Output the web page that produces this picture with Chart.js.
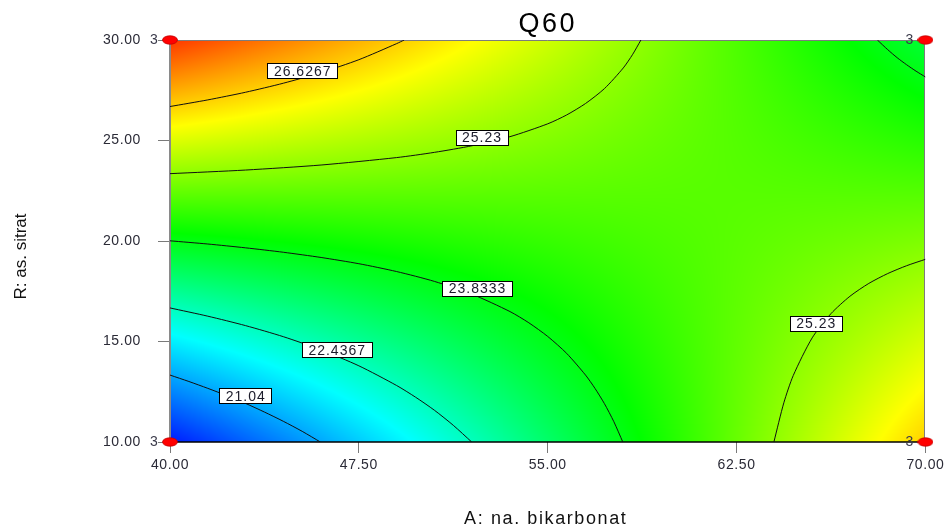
<!DOCTYPE html>
<html>
<head>
<meta charset="utf-8">
<script src="https://cdn.jsdelivr.net/npm/chart.js@4.4.1/dist/chart.umd.min.js"></script>
<style>
html,body{margin:0;padding:0;background:#ffffff;}
canvas{display:block;}
</style>
</head>
<body>
<canvas id="chart" width="947" height="527"></canvas>
<script>
// ---------------- data ----------------
const chartTitle = 'Q60';
const xAxisTitle = 'A: na. bikarbonat';
const yAxisTitle = 'R: as. sitrat';
const xTickValues = [40, 47.5, 55, 62.5, 70];
const yTickValues = [10, 15, 20, 25, 30];

// Q60 response read on a grid (columns = A levels, one array per B level)
const gridA = [40, 45, 50, 55, 60, 65, 70];
const gridB = [10, 15, 20, 25, 30];
const q60AtB10 = [19.65, 20.81, 21.98, 23.14, 24.30, 25.47, 26.63];
const q60AtB15 = [21.74, 22.43, 23.11, 23.80, 24.49, 25.17, 25.86];
const q60AtB20 = [23.83, 24.04, 24.25, 24.46, 24.67, 24.88, 25.09];
const q60AtB25 = [25.92, 25.65, 25.39, 25.12, 24.85, 24.59, 24.32];
const q60AtB30 = [28.01, 27.27, 26.52, 25.78, 25.04, 24.29, 23.55];

// contour lines, points as [A, B]
const contour2104 = [[40,13.33],[40.75,13.01],[41.5,12.67],[42.25,12.31],[43,11.92],[43.75,11.49],[44.5,11.03],[45.25,10.53],[45.97,10]];
const contour22437 = [[40,16.67],[41.5,16.26],[43,15.79],[44.5,15.24],[46,14.58],[47.5,13.79],[49,12.81],[49.75,12.23],[50.5,11.58],[51.25,10.83],[51.98,10]];
const contour23833a = [[40,20.01],[41.5,19.85],[43,19.66],[44.5,19.44],[46,19.18],[47.5,18.87],[49,18.48],[50.5,17.99],[52,17.35],[53.5,16.49],[54.25,15.93],[55,15.25],[55.75,14.41],[56.5,13.33],[56.875,12.67],[57.25,11.91],[57.625,11.01],[57.98,10]];
const contour23833b = [[68.09,30],[68.5,29.52],[68.875,29.12],[69.25,28.77],[69.625,28.45],[70,28.16]];
const contour2523a = [[40,23.35],[43,23.53],[46,23.78],[49,24.15],[50.5,24.41],[52,24.74],[53.5,25.19],[55,25.83],[55.75,26.27],[56.5,26.84],[57.25,27.58],[58,28.61],[58.375,29.29],[58.70,30]];
const contour2523b = [[63.98,10],[64.375,11.95],[64.75,13.31],[65.5,15.18],[66.25,16.39],[67,17.25],[67.75,17.89],[68.5,18.38],[69.25,18.77],[70,19.09]];
const contour26627 = [[40,26.69],[41.5,27.02],[43,27.40],[44.5,27.85],[46,28.38],[47.5,29.02],[49,29.82],[49.30,30]];

const contourLabelText = ['26.6267', '25.23', '23.8333', '22.4367', '21.04', '25.23'];
const contourLabelA = [45.25, 52.37, 52.19, 46.62, 42.99, 65.64];
const contourLabelB = [28.47, 25.15, 17.65, 14.58, 12.30, 15.92];

const designA = [40, 40, 70, 70];
const designB = [10, 30, 10, 30];
const designRuns = [3, 3, 3, 3];

// ---------------- styling ----------------
const FONT = "'Liberation Sans', Arial, sans-serif";
const colorStops = [
  [19.4, [0, 0, 255]],
  [21.9, [0, 255, 255]],
  [24.0, [0, 255, 0]],
  [26.2, [255, 255, 0]],
  [28.5, [255, 0, 0]]
];
function colorOf(v) {
  if (v <= colorStops[0][0]) return colorStops[0][1];
  for (let i = 0; i < colorStops.length - 1; i++) {
    const [v0, c0] = colorStops[i], [v1, c1] = colorStops[i + 1];
    if (v <= v1) {
      const t = (v - v0) / (v1 - v0);
      return [c0[0] + (c1[0] - c0[0]) * t, c0[1] + (c1[1] - c0[1]) * t, c0[2] + (c1[2] - c0[2]) * t];
    }
  }
  return colorStops[colorStops.length - 1][1];
}
const gridRows = [q60AtB10, q60AtB15, q60AtB20, q60AtB25, q60AtB30];
function cellIndex(arr, v) {
  let i = 0;
  while (i < arr.length - 2 && v > arr[i + 1]) i++;
  return i;
}
function lookup(a, b) {
  const i = cellIndex(gridA, a), j = cellIndex(gridB, b);
  const tx = Math.min(1, Math.max(0, (a - gridA[i]) / (gridA[i + 1] - gridA[i])));
  const ty = Math.min(1, Math.max(0, (b - gridB[j]) / (gridB[j + 1] - gridB[j])));
  const r0 = gridRows[j], r1 = gridRows[j + 1];
  const v0 = r0[i] + (r0[i + 1] - r0[i]) * tx;
  const v1 = r1[i] + (r1[i + 1] - r1[i]) * tx;
  return v0 + (v1 - v0) * ty;
}

// ellipse marker for design points
const ellipse = document.createElement('canvas');
ellipse.width = 16; ellipse.height = 10;
(function () {
  const c = ellipse.getContext('2d');
  c.beginPath();
  c.ellipse(8, 5, 7.5, 4.2, 0, 0, Math.PI * 2);
  c.fillStyle = '#ff0000';
  c.fill();
  c.lineWidth = 0.8;
  c.strokeStyle = '#c00000';
  c.stroke();
})();

const surfacePlugin = {
  id: 'surface',
  beforeDraw(chart) {
    chart.ctx.letterSpacing = '0.6px';
  },
  beforeDatasetsDraw(chart) {
    const { ctx, chartArea: ca, scales } = chart;
    const x0 = Math.round(ca.left), y0 = Math.round(ca.top);
    const w = Math.round(ca.right) - x0, h = Math.round(ca.bottom) - y0;
    const img = ctx.createImageData(w, h);
    for (let j = 0; j < h; j++) {
      const b = scales.y.getValueForPixel(y0 + j + 0.5);
      for (let i = 0; i < w; i++) {
        const a = scales.x.getValueForPixel(x0 + i + 0.5);
        const c = colorOf(lookup(a, b));
        const k = (j * w + i) * 4;
        img.data[k] = c[0]; img.data[k + 1] = c[1]; img.data[k + 2] = c[2]; img.data[k + 3] = 255;
      }
    }
    ctx.putImageData(img, x0, y0);
    ctx.save();
    ctx.lineWidth = 1;
    ctx.strokeStyle = '#7c7c7c';
    ctx.beginPath();
    ctx.moveTo(x0, y0 + 0.5); ctx.lineTo(x0 + w, y0 + 0.5);
    ctx.moveTo(x0 + w - 0.5, y0); ctx.lineTo(x0 + w - 0.5, y0 + h);
    ctx.stroke();
    ctx.lineWidth = 2;
    ctx.strokeStyle = '#8a8a8a';
    ctx.beginPath();
    ctx.moveTo(x0, y0); ctx.lineTo(x0, y0 + h);
    ctx.stroke();
    ctx.lineWidth = 1.5;
    ctx.strokeStyle = '#000000';
    ctx.beginPath();
    ctx.moveTo(x0 - 1, y0 + h); ctx.lineTo(x0 + w, y0 + h);
    ctx.stroke();
    ctx.restore();
  },
  afterDatasetsDraw(chart) {
    const { ctx, scales } = chart;
    ctx.save();
    ctx.font = '14px ' + FONT;
    ctx.letterSpacing = '1px';
    ctx.textAlign = 'center';
    ctx.textBaseline = 'middle';
    contourLabelText.forEach((t, i) => {
      const px = scales.x.getPixelForValue(contourLabelA[i]);
      const py = scales.y.getPixelForValue(contourLabelB[i]);
      const tw = ctx.measureText(t).width;
      const bw = Math.round(tw + 12), bh = 15;
      const bx = Math.round(px - bw / 2) + 0.5, by = Math.round(py - bh / 2) + 0.5;
      ctx.fillStyle = '#ffffff';
      ctx.fillRect(bx, by, bw, bh);
      ctx.strokeStyle = '#000000';
      ctx.lineWidth = 1;
      ctx.strokeRect(bx, by, bw, bh);
      ctx.fillStyle = '#1b1b2a';
      ctx.fillText(t, px + 0.5, py + 1);
    });
    ctx.font = '14px ' + FONT;
    ctx.letterSpacing = '0px';
    ctx.fillStyle = '#3a3a4a';
    designA.forEach((a, i) => {
      const px = scales.x.getPixelForValue(a);
      const py = scales.y.getPixelForValue(designB[i]);
      ctx.fillText(String(designRuns[i]), px - 16, py);
    });
    ctx.restore();
  },
  afterDraw(chart) {
    const { ctx, chartArea: ca } = chart;
    ctx.save();
    ctx.fillStyle = '#000000';
    ctx.textAlign = 'center';
    ctx.textBaseline = 'alphabetic';
    ctx.font = '27px ' + FONT;
    ctx.letterSpacing = '2.5px';
    ctx.fillText(chartTitle, (ca.left + ca.right) / 2, 31.5);
    ctx.font = '18px ' + FONT;
    ctx.letterSpacing = '1.6px';
    ctx.fillStyle = '#111111';
    ctx.fillText(xAxisTitle, (ca.left + ca.right) / 2 - 2, 524);
    ctx.font = '17px ' + FONT;
    ctx.letterSpacing = '0px';
    ctx.translate(26, 256.5);
    ctx.rotate(-Math.PI / 2);
    ctx.fillText(yAxisTitle, 0, 0);
    ctx.restore();
  }
};

function pts(arr) { return arr.map(p => ({ x: p[0], y: p[1] })); }
const contourSets = [contour2104, contour22437, contour23833a, contour23833b, contour2523a, contour2523b, contour26627]
  .map(c => ({
    data: pts(c),
    showLine: true,
    borderColor: '#101010',
    borderWidth: 1,
    pointRadius: 0,
    tension: 0.25,
    order: 2
  }));

const designSet = {
  data: designA.map((a, i) => ({ x: a, y: designB[i] })),
  pointStyle: ellipse,
  pointRadius: 6,
  showLine: false,
  clip: false,
  order: 0
};

const tickFont = { family: FONT, size: 14 };

new Chart(document.getElementById('chart'), {
  type: 'scatter',
  data: { datasets: [designSet, ...contourSets] },
  options: {
    responsive: false,
    animation: false,
    devicePixelRatio: 1,
    events: [],
    layout: { padding: { top: 40, right: 20, left: 0, bottom: 0 } },
    plugins: { legend: { display: false }, tooltip: { enabled: false }, title: { display: false } },
    scales: {
      x: {
        type: 'linear', min: 40, max: 70,
        afterBuildTicks: s => { s.ticks = xTickValues.map(v => ({ value: v })); },
        afterFit: s => { s.height = 85; },
        ticks: { callback: v => Number(v).toFixed(2), font: tickFont, color: '#2a2a36', padding: 4, maxRotation: 0, autoSkip: false },
        grid: { display: true, drawOnChartArea: false, drawTicks: true, tickLength: 11, color: '#7a7a7a' },
        border: { display: false }
      },
      y: {
        type: 'linear', min: 10, max: 30,
        afterBuildTicks: s => { s.ticks = yTickValues.map(v => ({ value: v })); },
        afterFit: s => { s.width = 170; },
        ticks: { callback: v => Number(v).toFixed(2), font: tickFont, color: '#2a2a36', padding: 17, autoSkip: false },
        grid: { display: true, drawOnChartArea: false, drawTicks: true, tickLength: 12, color: '#7a7a7a' },
        border: { display: false }
      }
    }
  },
  plugins: [surfacePlugin]
});
</script>
</body>
</html>
